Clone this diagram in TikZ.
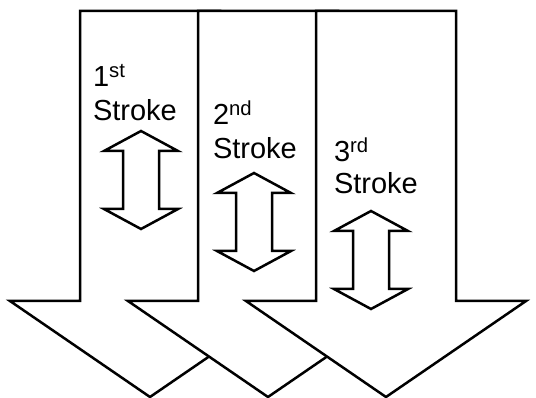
\documentclass[tikz,border=0pt]{standalone}
\usepackage{fontspec}
\setmainfont{Liberation Sans}
\usepackage{tikz}
\usetikzlibrary{positioning}
\tikzset{
% outline of the shapes
shapeline/.style={draw=black, fill=white, line width=2.5pt},
label/.style={inner sep=0, outer sep=0, anchor=base west, font=\fontsize{29}{34}\selectfont},
% big downward stroke arrow
pics/strokearrow/.style={code={
  \draw[shapeline] (-70,11) -- (70,11) -- (70,301) -- (140,301) -- (0,397)
    -- (-140,301) -- (-70,301) -- cycle;
}},
% small up/down arrow
pics/updown/.style={code={
  \draw[shapeline] (0,0) -- (37,20) -- (18,20) -- (18,78) -- (37,78) -- (0,98)
    -- (-37,78) -- (-18,78) -- (-18,20) -- (-37,20) -- cycle;
}}
}
\begin{document}
\begin{tikzpicture}[x=1pt, y=-1pt]
  \useasboundingbox (0,0) rectangle (536,398);

  % big arrows, left to right
  \pic (arrow1) at (150,0) {strokearrow};
  \pic (arrow2) at (268,0) {strokearrow};
  \pic (arrow3) at (386,0) {strokearrow};

  % up/down arrows
  \pic (move1) at (141,131) {updown};
  \pic (move2) at (254,173) {updown};
  \pic (move3) at (371,211) {updown};

  % labels
  \node[label] (num1) at (93,87) {1\textsuperscript{st}};
  \node[label] (word1) at (93,121) {Stroke};
  \node[label] (num2) at (213,125) {2\textsuperscript{nd}};
  \node[label] (word2) at (213,159) {Stroke};
  \node[label] (num3) at (334,162) {3\textsuperscript{rd}};
  \node[label] (word3) at (334,194) {Stroke};
\end{tikzpicture}
\end{document}
